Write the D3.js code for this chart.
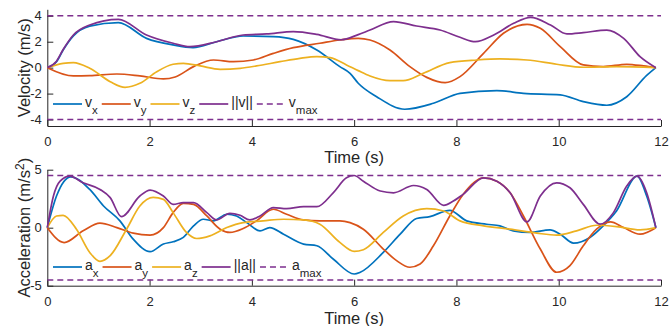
<!DOCTYPE html>
<html>
<head>
<meta charset="utf-8">
<script src="https://cdn.jsdelivr.net/npm/d3@7"></script>
<style>
  body { margin: 0; background: #fff; }
  text { font-family: "Liberation Sans", Arial, sans-serif; fill: #262626; }
</style>
</head>
<body>
<svg id="chart" width="671" height="326"></svg>
<script>
// time axis
const timeDomain = [0, 12];
const timeTicks = [0, 2, 4, 6, 8, 10, 12];

// velocity series, [t (s), value (m/s)]
const vx = [[0,0],[0.18,0.45],[0.31,1.36],[0.51,2.45],[0.83,3.2],[1.39,3.47],[1.94,2.26],[2.46,1.75],[2.85,1.55],[3.31,2.0],[3.83,2.44],[4.42,2.39],[4.81,2.18],[5.27,1.36],[5.72,0.08],[5.92,-0.44],[6.08,-1.2],[6.44,-2.24],[6.99,-3.21],[7.55,-2.75],[8.07,-1.98],[8.79,-1.77],[9.31,-1.98],[10.03,-2.1],[10.48,-2.62],[10.94,-2.9],[11.33,-2.24],[11.72,-0.6],[11.9,0]];
const vy = [[0,0],[0.51,-0.64],[0.83,-0.62],[1.36,-0.49],[1.81,-0.64],[2.27,-0.87],[2.5,-0.72],[2.86,0.08],[3.25,0.59],[3.64,0.46],[4.03,0.59],[4.42,1.1],[4.81,1.54],[5.33,1.88],[5.72,2.13],[6.08,2.26],[6.31,2.13],[6.7,1.36],[7.09,0.08],[7.42,-0.75],[7.78,-1.16],[8.07,-0.69],[8.53,1.1],[8.92,2.65],[9.38,3.34],[9.64,3.03],[10.03,1.62],[10.48,0.21],[10.87,0.08],[11.33,0.26],[11.66,0.13],[11.9,0]];
const vz = [[0,0],[0.31,0.33],[0.51,0.39],[0.83,-0.05],[1.23,-1.08],[1.52,-1.52],[1.81,-1.21],[2.14,-0.31],[2.46,0.26],[2.66,0.33],[2.99,0.13],[3.38,-0.13],[3.77,-0.05],[4.09,0.13],[4.55,0.46],[4.94,0.72],[5.27,0.85],[5.53,0.77],[5.85,0.21],[6.08,-0.23],[6.31,-0.64],[6.7,-1.0],[6.96,-1.0],[7.35,-0.44],[7.87,0.39],[8.4,0.59],[8.85,0.67],[9.38,0.59],[9.96,0.26],[10.48,0.03],[11.13,0.08],[11.9,0]];
const vNorm = [[0,0],[0.18,0.5],[0.31,1.4],[0.51,2.52],[0.83,3.29],[1.39,3.73],[1.94,2.52],[2.46,1.88],[2.79,1.62],[3.31,2.0],[3.83,2.52],[4.29,2.6],[4.81,2.78],[5.27,2.57],[5.75,2.15],[6.08,2.55],[6.31,2.9],[6.77,3.55],[7.22,3.21],[7.68,2.9],[8.07,2.34],[8.37,2.0],[8.73,2.52],[9.12,3.42],[9.45,3.88],[9.84,3.29],[10.16,2.6],[10.48,2.7],[10.94,2.9],[11.27,2.26],[11.59,0.85],[11.9,0]];
const vMax = 4;

// acceleration series, [t (s), value (m/s^2)]
const ax = [[0,0],[0.18,2.73],[0.46,4.39],[0.83,3.3],[1.1,1.87],[1.42,0.59],[1.68,-0.99],[2.01,-2.07],[2.27,-1.41],[2.46,-1.21],[2.66,-0.84],[2.86,0.16],[3.05,0.73],[3.25,0.59],[3.51,1.16],[3.7,1.01],[3.9,0.44],[4.16,-0.27],[4.35,0.01],[4.62,-0.56],[5.01,-1.41],[5.27,-1.56],[5.59,-2.7],[6.0,-3.99],[6.12,-3.84],[6.57,-2.13],[6.9,-0.56],[7.22,0.79],[7.48,0.96],[7.87,1.5],[8.2,0.59],[8.59,0.3],[8.85,0.16],[9.11,-0.27],[9.44,-0.41],[9.83,-0.19],[10.03,-0.56],[10.29,-1.33],[10.61,-0.84],[10.87,0.16],[11.13,1.44],[11.53,4.44],[11.72,2.73],[11.9,0]];
const ay = [[0,0],[0.33,-1.28],[0.7,-0.27],[1.03,0.39],[1.36,0.01],[1.68,-0.47],[2.01,-0.64],[2.27,0.01],[2.46,1.3],[2.66,2.1],[2.86,2.01],[3.12,1.01],[3.38,-0.13],[3.57,-0.41],[3.83,-0.07],[4.09,0.59],[4.42,1.59],[4.68,1.16],[5.01,0.67],[5.33,0.59],[5.72,0.59],[5.92,0.44],[6.18,-0.13],[6.57,-1.84],[6.83,-2.84],[7.09,-3.41],[7.29,-3.13],[7.55,-1.56],[7.87,1.01],[8.13,2.87],[8.53,4.3],[8.79,4.01],[9.05,3.01],[9.31,1.01],[9.64,-1.84],[9.96,-3.84],[10.22,-3.27],[10.48,-1.56],[10.74,-0.13],[11.01,0.5],[11.27,0.01],[11.59,-0.56],[11.9,0]];
const az = [[0,0],[0.18,1.01],[0.31,1.07],[0.57,-0.13],[0.83,-2.13],[1.03,-2.9],[1.23,-2.41],[1.55,-0.13],[1.81,1.87],[2.07,2.61],[2.27,2.44],[2.46,1.3],[2.72,-0.41],[2.92,-0.93],[3.18,-0.7],[3.51,0.01],[3.83,0.44],[4.22,0.59],[4.62,0.73],[5.01,0.67],[5.33,0.3],[5.72,-1.27],[6.0,-2.04],[6.18,-1.9],[6.57,-0.41],[6.96,1.01],[7.42,1.64],[7.75,1.44],[8.07,0.59],[8.53,0.16],[9.05,-0.13],[9.57,-0.47],[9.96,-0.64],[10.35,-0.27],[10.74,0.21],[11.13,0.1],[11.59,-0.19],[11.9,0]];
const aNorm = [[0,0],[0.12,2.73],[0.25,4.01],[0.44,4.44],[0.7,3.87],[1.03,3.3],[1.23,2.59],[1.45,0.95],[1.81,2.73],[2.01,3.24],[2.27,2.73],[2.46,2.01],[2.66,2.16],[2.86,2.16],[3.12,1.3],[3.31,0.67],[3.57,1.24],[3.77,1.07],[3.96,0.67],[4.16,1.01],[4.42,1.73],[4.68,1.64],[5.01,1.81],[5.27,1.81],[5.59,3.01],[5.85,4.3],[6.0,4.5],[6.18,4.01],[6.51,3.16],[6.77,3.01],[7.16,3.64],[7.42,3.3],[7.75,1.93],[7.94,2.3],[8.13,2.87],[8.53,4.3],[8.79,4.01],[9.05,3.01],[9.38,0.5],[9.64,2.73],[9.96,3.87],[10.22,3.44],[10.48,2.01],[10.81,0.3],[11.07,1.3],[11.33,3.59],[11.53,4.44],[11.72,3.01],[11.9,0]];
const aMax = 4.5;

const colors = ['#0072BD', '#D95319', '#EDB120', '#7E2F8E'];
const svg = d3.select('#chart');

function drawPanel(p) {
  const g = svg.append('g');
  const x = d3.scaleLinear().domain(timeDomain).range([47.3, 661]);
  const y = d3.scaleLinear().domain(p.yDomain).range([p.bottom, p.top]);

  // axes (left + bottom only, ticks pointing inward)
  const gx = g.append('g').attr('transform', `translate(0,${p.bottom})`)
    .call(d3.axisBottom(x).tickValues(timeTicks).tickSize(-6).tickSizeOuter(0).tickPadding(p.xPad).tickFormat(d => String(d)));
  const gy = g.append('g').attr('transform', `translate(${x(0)},0)`)
    .call(d3.axisLeft(y).tickValues(p.yTicks).tickSize(-6).tickSizeOuter(0).tickPadding(5.5).tickFormat(d => String(d)));
  [gx, gy].forEach(a => {
    a.attr('font-family', null).attr('font-size', null);
    a.selectAll('path, line').attr('stroke', '#262626').attr('stroke-width', 1);
    a.selectAll('text').style('font-size', '13px');
  });

  // series
  const line = d3.line().x(d => x(d[0])).y(d => y(d[1])).curve(d3.curveMonotoneX);
  p.series.forEach((s, i) => {
    g.append('path').datum(s).attr('d', line)
      .attr('fill', 'none').attr('stroke', colors[i]).attr('stroke-width', 1.7)
      .attr('stroke-linejoin', 'round');
  });

  // limit lines
  [p.limit, -p.limit].forEach(v => {
    g.append('line').attr('x1', x(timeDomain[0])).attr('x2', x(timeDomain[1]))
      .attr('y1', y(v)).attr('y2', y(v))
      .attr('stroke', colors[3]).attr('stroke-width', 1.5).attr('stroke-dasharray', '6,4');
  });

  // axis titles
  g.append('text').attr('x', (x(0) + x(12)) / 2).attr('y', p.xTitleY)
    .attr('text-anchor', 'middle').style('font-size', '16.5px').text('Time (s)');
  const yt = g.append('text')
    .attr('transform', `translate(29.5,${(p.top + p.bottom) / 2}) rotate(-90)`)
    .attr('text-anchor', 'middle').style('font-size', '16.5px');
  yt.append('tspan').text(p.yTitle);
  if (p.yTitleSup) {
    yt.append('tspan').attr('dy', -6).style('font-size', '12px').text(p.yTitleSup);
    yt.append('tspan').attr('dy', 6).text(')');
  }

  // legend
  let lx = 53;
  p.legend.forEach((it, i) => {
    g.append('line').attr('x1', lx).attr('x2', lx + 29)
      .attr('y1', p.legendY).attr('y2', p.legendY)
      .attr('stroke', colors[Math.min(i, 3)]).attr('stroke-width', i < 4 ? 1.7 : 1.5)
      .attr('stroke-dasharray', i === 4 ? '6,4' : null);
    const t = g.append('text').attr('x', lx + 32).attr('y', p.legendY + 3)
      .style('font-size', '14px');
    t.append('tspan').text(it[0]);
    if (it[1]) t.append('tspan').attr('dy', 6.5).style('font-size', '11.5px').text(it[1]);
    lx = lx + 32 + t.node().getComputedTextLength() + 4;
  });
}

drawPanel({
  yDomain: [-4.5, 4.5], yTicks: [-4, -2, 0, 2, 4], top: 9.3, bottom: 126,
  xPad: 10.5, xTitleY: 162.5, yTitle: 'Velocity (m/s)',
  series: [vx, vy, vz, vNorm], limit: vMax, legendY: 104,
  legend: [['v', 'x'], ['v', 'y'], ['v', 'z'], ['||v||'], ['v', 'max']]
});

drawPanel({
  yDomain: [-5, 5], yTicks: [-5, 0, 5], top: 169.7, bottom: 285.7,
  xPad: 11, xTitleY: 323.5, yTitle: 'Acceleration (m/s', yTitleSup: '2',
  series: [ax, ay, az, aNorm], limit: aMax, legendY: 267,
  legend: [['a', 'x'], ['a', 'y'], ['a', 'z'], ['||a||'], ['a', 'max']]
});
</script>
</body>
</html>
